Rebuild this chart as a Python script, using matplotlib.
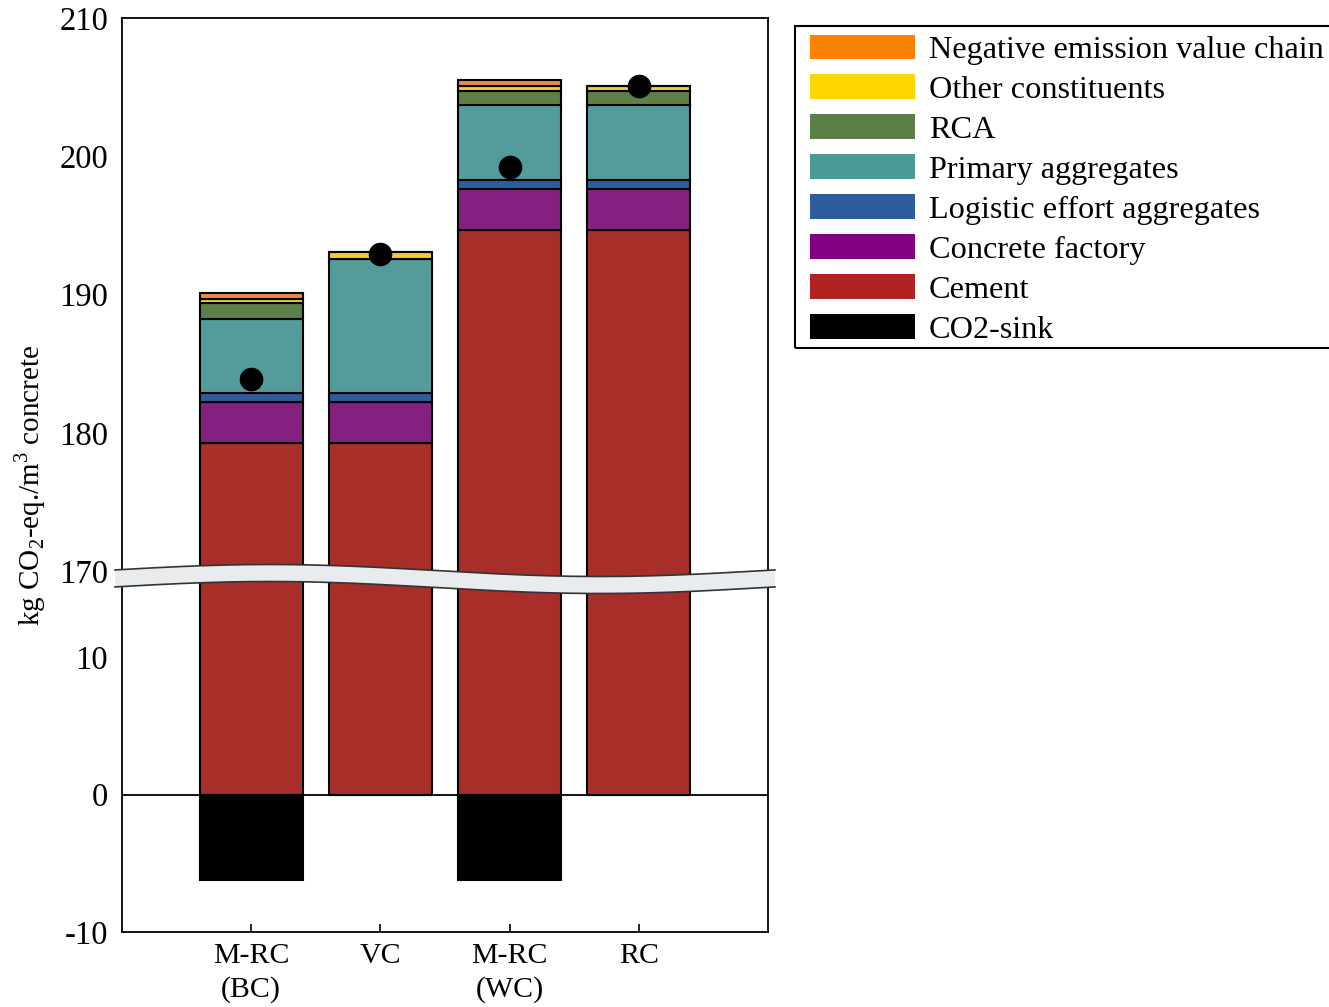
import numpy as np
import matplotlib
matplotlib.use('Agg')
import matplotlib.pyplot as plt
from matplotlib.patches import Patch, Polygon, Rectangle
from matplotlib.lines import Line2D

plt.rcParams['font.family'] = ['Liberation Serif', 'DejaVu Serif']
plt.rcParams['mathtext.fontset'] = 'custom'
plt.rcParams['mathtext.rm'] = 'Liberation Serif'
plt.rcParams['axes.unicode_minus'] = False

# data (kg CO2-eq./m3 concrete)
categories = ['M-RC\n(BC)', 'VC', 'M-RC\n(WC)', 'RC']
cement = [179.25, 179.25, 194.7, 194.7]
factory = [2.95, 2.95, 2.95, 2.95]
logistic = [0.65, 0.65, 0.65, 0.65]
primary = [5.4, 9.72, 5.4, 5.4]
rca = [1.15, 0.0, 1.05, 1.05]
other = [0.3, 0.48, 0.35, 0.35]
negative = [0.42, 0.0, 0.42, 0.0]
co2_sink = [-6.25, 0.0, -6.25, 0.0]
net_total = [183.9, 192.9, 199.25, 205.1]

layers = [
    ('Cement', cement, '#a82e29'),
    ('Concrete factory', factory, '#84207f'),
    ('Logistic effort aggregates', logistic, '#2f5c9c'),
    ('Primary aggregates', primary, '#549c9c'),
    ('RCA', rca, '#5e7f45'),
    ('Other constituents', other, '#f5cc30'),
    ('Negative emission value chain', negative, '#ee8a3c'),
]
legend_colors = {
    'Negative emission value chain': '#ff8000',
    'Other constituents': '#ffd700',
    'RCA': '#5b7f45',
    'Primary aggregates': '#4a9a9a',
    'Logistic effort aggregates': '#2c5e9e',
    'Concrete factory': '#80007f',
    'Cement': '#b22222',
    'CO2-sink': '#000000',
}

W, H = 1329, 1007
fig = plt.figure(figsize=(W / 100, H / 100), dpi=100)
left, right = 122 / W, 768 / W
split = 580
ax_top = fig.add_axes([left, 1 - split / H, right - left, (split - 18) / H])
ax_bot = fig.add_axes([left, 1 - 932 / H, right - left, (932 - split) / H])

x = np.arange(1, len(categories) + 1)
for ax in (ax_top, ax_bot):
    bottom = np.zeros(len(categories))
    for name, vals, col in layers:
        ax.bar(x, vals, 0.8, bottom=bottom, color=col, edgecolor='black', linewidth=1.5)
        bottom += np.array(vals)
    ax.bar(x, co2_sink, 0.8, color='black', edgecolor='black', linewidth=1.5)
    ax.set_xlim(0, 5)
    for s in ax.spines.values():
        s.set_linewidth(1.3)

ax_top.plot(x, net_total, 'o', color='black', markersize=16, zorder=5, clip_on=False)

ax_top.set_ylim(170 - 9 / 13.83, 210)
ax_top.set_yticks([170, 180, 190, 200, 210])
ax_top.set_xticks([])
ax_top.spines['bottom'].set_visible(False)

ax_bot.set_ylim(-10, 10 + (657 - split) / 13.75)
ax_bot.set_yticks([-10, 0, 10])
ax_bot.spines['top'].set_visible(False)
ax_bot.axhline(0, color='black', linewidth=1.3)
ax_bot.set_xticks(x)
ax_bot.set_xticklabels(categories, fontsize=21.5, linespacing=1.35)

for ax in (ax_top, ax_bot):
    ax.tick_params(axis='y', labelsize=23.5, length=0, pad=10)
    ax.tick_params(axis='x', direction='in', length=6, width=1.2, pad=8)

fig.text(30 / W, 1 - 485 / H, r'kg CO$_2$-eq./m$^3$ concrete', rotation=90,
         ha='center', va='center', fontsize=21)

# wavy break band
xs = np.linspace(115, 775, 200)
yc = 579 - 6 * np.cos(2 * np.pi * (xs - 270) / 660)
top_edge = yc - 8.5
bot_edge = yc + 8.5
pts = np.concatenate([np.column_stack([xs, top_edge]), np.column_stack([xs[::-1], bot_edge[::-1]])])
pts_fig = np.column_stack([pts[:, 0] / W, 1 - pts[:, 1] / H])
fig.add_artist(Polygon(pts_fig, closed=True, facecolor='#e8ecee', edgecolor='none',
                       transform=fig.transFigure, zorder=10))
for edge in (top_edge, bot_edge):
    fig.add_artist(Line2D(xs / W, 1 - edge / H, color='#333333', linewidth=1.2,
                          transform=fig.transFigure, zorder=11))

# legend (frame runs off the right edge, as in the original)
order = ['Negative emission value chain', 'Other constituents', 'RCA', 'Primary aggregates',
         'Logistic effort aggregates', 'Concrete factory', 'Cement', 'CO2-sink']
handles = [Patch(facecolor=legend_colors[n], edgecolor='none', label=n) for n in order]
fig.legend(handles=handles, loc='upper left', bbox_to_anchor=(810 / W, 1 - 34.5 / H),
           borderaxespad=0, fontsize=23.2, frameon=False,
           handlelength=3.26, handleheight=0.78, handletextpad=0.43,
           labelspacing=0.3, borderpad=0)
fig.add_artist(Rectangle((795 / W, 1 - 348 / H), 560 / W, (348 - 26) / H,
                         transform=fig.transFigure, facecolor='none',
                         edgecolor='black', linewidth=1.5))

fig.savefig('out.png', dpi=100)
